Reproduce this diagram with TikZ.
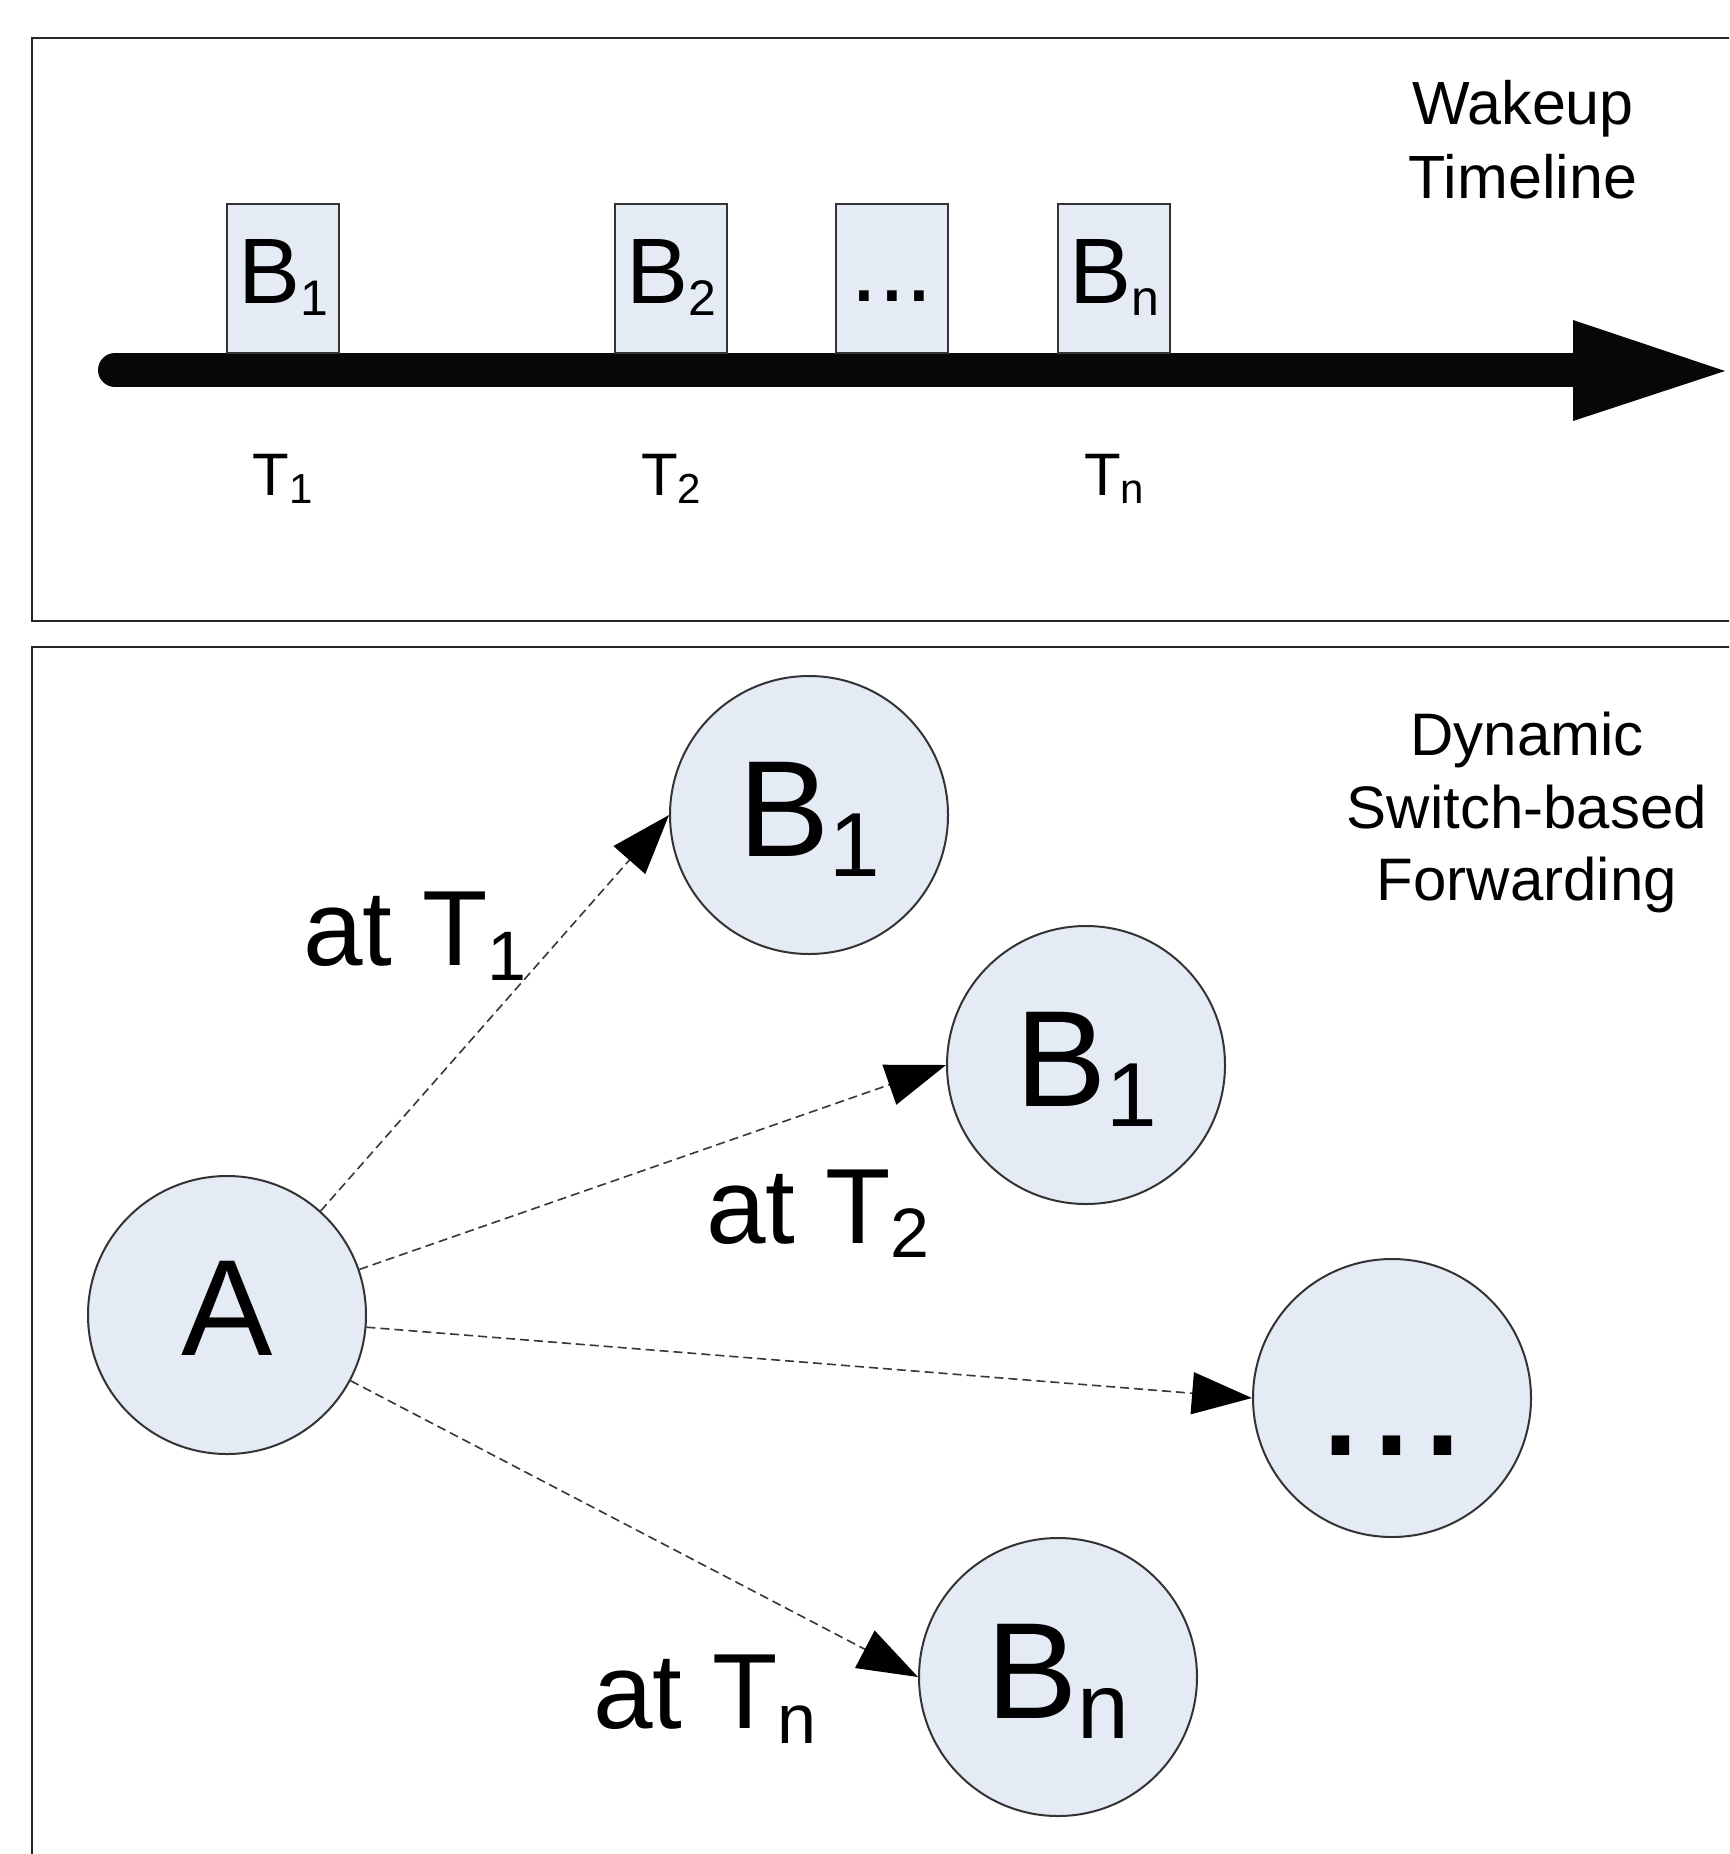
\documentclass[tikz,border=0pt]{standalone}
\usepackage{fontspec}
\setmainfont{Liberation Sans}
\usetikzlibrary{arrows.meta}
\definecolor{nodefill}{RGB}{228,235,245}
\definecolor{edgec}{RGB}{55,55,55}
\definecolor{barc}{RGB}{7,7,7}
\newcommand\lowsub[3]{\raisebox{-#2pt}{\fontsize{#1}{#1}\selectfont #3}}
\begin{document}
\begin{tikzpicture}[x=1pt,y=-1pt,
  panel/.style={draw=black!85, line width=2.5pt},
  slot/.style={draw=black!80, line width=2pt, fill=nodefill, minimum width=112pt, minimum height=149pt, inner sep=0pt, text height=0pt, text depth=0pt, font=\fontsize{93}{93}\selectfont},
  tlabel/.style={anchor=base, inner sep=0pt, font=\fontsize{60}{60}\selectfont},
  circ/.style={circle, draw=black!80, line width=2pt, fill=nodefill, minimum size=278pt, inner sep=0pt, text height=0pt, text depth=0pt, font=\fontsize{137}{137}\selectfont},
  title/.style={align=center, inner sep=0pt, anchor=north},
  edge/.style={draw=edgec, line width=1.6pt, dash pattern=on 9pt off 5pt, -{Triangle[length=60pt,width=42pt,color=black,fill=black]}},
  elabel/.style={anchor=base west, inner sep=0pt, font=\fontsize{107}{107}\selectfont},
]
\useasboundingbox (0,0) rectangle (1729,1854);
\fill[white] (0,0) rectangle (1729,1854);
\clip (0,0) rectangle (1729,1854);

% panels
\draw[panel] (32,38) rectangle (1800,621);
\draw[panel] (32,647) rectangle (1800,1900);

% timeline
\coordinate (tl) at (115,370);
\coordinate (tm) at (1580,370);
\draw[barc, line width=34pt, line cap=round] (tl) -- (tm);
\fill[barc] (1573,320) -- (1725,371) -- (1573,421) -- cycle;

\node[slot] (s1) at (283,278.5) {\raisebox{-24.5pt}{B\lowsub{50}{12}{1}}};
\node[slot] (s2) at (671,278.5) {\raisebox{-24.5pt}{B\lowsub{50}{12}{2}}};
\node[slot] (s3) at (892,278.5) {\raisebox{-22.5pt}{\fontsize{100}{100}\selectfont ...}};
\node[slot] (s4) at (1114,278.5) {\raisebox{-24.5pt}{B\lowsub{50}{12}{n}}};

\node[tlabel] (t1) at (283,495) {T\lowsub{42}{8}{1}};
\node[tlabel] (t2) at (671,495) {T\lowsub{42}{8}{2}};
\node[tlabel] (tn) at (1114,495) {T\lowsub{42}{8}{n}};

\node[title, font=\fontsize{61}{74}\selectfont] (wk) at (1523,80) {Wakeup\\Timeline};

% forwarding
\node[title, font=\fontsize{60}{72.5}\selectfont] (dyn) at (1527,712) {Dynamic\\Switch-based\\Forwarding};

\node[circ] (A) at (227,1315) {\raisebox{-40pt}{A}};
\node[circ] (B1) at (809,815) {\raisebox{-41pt}{B\lowsub{91}{20}{1}}};
\node[circ] (B2) at (1086,1065) {\raisebox{-41pt}{B\lowsub{91}{20}{1}}};
\node[circ] (D) at (1392,1398) {\raisebox{-57pt}{\fontsize{183}{183}\selectfont ...}};
\node[circ] (Bn) at (1058,1677) {\raisebox{-41pt}{B\lowsub{93}{20}{n}}};

\draw[edge] (A.48) -- (B1.west);
\draw[edge] (A.19) -- (B2.west);
\draw[edge] (A.-5) -- (D.west);
\draw[edge] (A.-28) -- (Bn.west);

\node[elabel] (l1) at (303,965) {at T\lowsub{70}{15}{1}};
\node[elabel] (l2) at (706,1243) {at T\lowsub{70}{14}{2}};
\node[elabel] (l3) at (593,1728) {at T\lowsub{70}{15}{n}};
\end{tikzpicture}
\end{document}
